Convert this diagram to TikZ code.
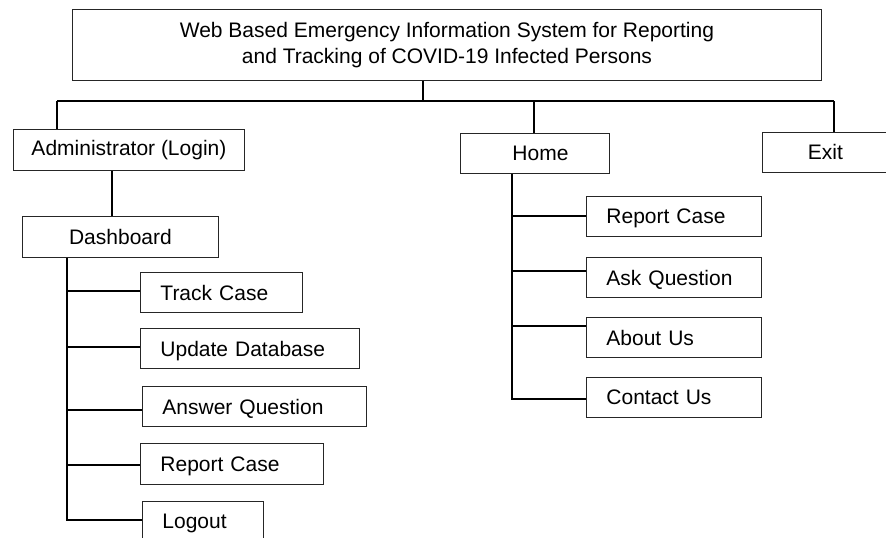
\documentclass[tikz,border=0pt]{standalone}
\usepackage{fontspec}
\setmainfont{Liberation Sans}
\begin{document}
\begin{tikzpicture}[x=1pt,y=-1pt,
  box/.style={draw=black!85,line width=0.9pt,anchor=north west,inner sep=0pt,font=\fontsize{21}{26}\selectfont},
  cbox/.style={box,align=center},
  lbox/.style={box,align=left,inner xsep=20pt,text depth=0pt},
  conn/.style={draw=black,line width=1.3pt}]
\useasboundingbox (0,0) rectangle (886,538);
\clip (0,0) rectangle (886,538);
% top level
\node[cbox,minimum width=749pt,minimum height=71pt] (title) at (72,9) {Web Based Emergency Information System for Reporting\\and Tracking of COVID-19 Infected Persons};
\node[cbox,minimum width=231pt,minimum height=41pt] (admin) at (13,129) {Administrator (Login)};
\node[cbox,minimum width=196pt,minimum height=41pt] (dash) at (22,216) {Dashboard};
\node[cbox,minimum width=149pt,minimum height=40pt] (home) at (460,133) {\hspace*{11pt}Home};
\node[cbox,minimum width=126pt,minimum height=40pt] (exit) at (762,132) {Exit};
% dashboard children
\node[lbox,minimum width=162pt,minimum height=40pt,text width=122pt] (track) at (140,272) {Track Case};
\node[lbox,minimum width=219pt,minimum height=40pt,text width=179pt] (update) at (140,328) {Update Database};
\node[lbox,minimum width=224pt,minimum height=40pt,text width=184pt] (answer) at (142,386) {Answer Question};
\node[lbox,minimum width=183pt,minimum height=41pt,text width=143pt] (reportL) at (140,443) {Report Case};
\node[lbox,minimum width=121pt,minimum height=40pt,text width=81pt] (logout) at (142,501) {Logout};
% home children
\node[lbox,minimum width=175pt,minimum height=40pt,text width=135pt] (reportR) at (586,196) {Report Case};
\node[lbox,minimum width=175pt,minimum height=40pt,text width=135pt] (ask) at (586,257) {Ask Question};
\node[lbox,minimum width=175pt,minimum height=40pt,text width=135pt] (about) at (586,317) {About Us};
\node[lbox,minimum width=175pt,minimum height=40pt,text width=135pt] (contact) at (586,377) {Contact Us};
% bus
\coordinate (tstem) at (423,101);
\coordinate (busL) at (57,101);
\coordinate (busM) at (534,101);
\coordinate (busR) at (834,101);
\draw[conn] (title.south -| tstem) -- (tstem);
\draw[conn] (busL) -- (busR);
\draw[conn] (busL) -- (busL |- admin.north);
\draw[conn] (busM) -- (busM |- home.north);
\draw[conn] (busR) -- (busR |- exit.north);
% admin to dashboard
\coordinate (ad) at (112,0);
\draw[conn] (admin.south -| ad) -- (dash.north -| ad);
% dashboard stem
\coordinate (dstem) at (67,521);
\draw[conn] (dash.south -| dstem) -- (dstem);
\draw[conn] (dstem |- 0,291) -- (track.west |- 0,291);
\draw[conn] (dstem |- 0,347) -- (update.west |- 0,347);
\draw[conn] (dstem |- 0,410) -- (answer.west |- 0,410);
\draw[conn] (dstem |- 0,465) -- (reportL.west |- 0,465);
\draw[conn] (dstem |- 0,520) -- (logout.west |- 0,520);
% home stem
\coordinate (hstem) at (512,400);
\draw[conn] (home.south -| hstem) -- (hstem);
\draw[conn] (hstem |- 0,216) -- (reportR.west |- 0,216);
\draw[conn] (hstem |- 0,271) -- (ask.west |- 0,271);
\draw[conn] (hstem |- 0,326) -- (about.west |- 0,326);
\draw[conn] (hstem |- 0,399) -- (contact.west |- 0,399);
\end{tikzpicture}
\end{document}
